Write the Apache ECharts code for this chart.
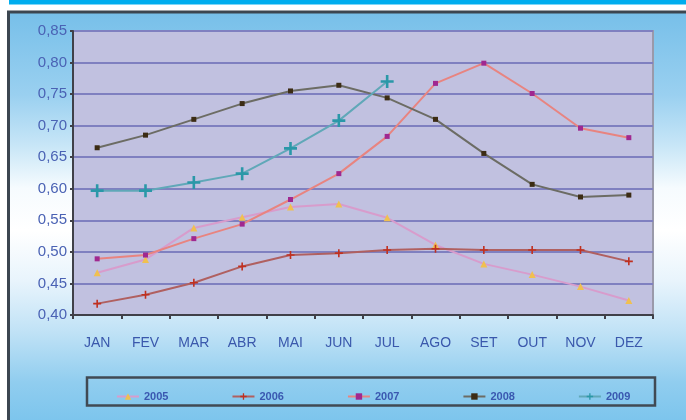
<!DOCTYPE html>
<html>
<head>
<meta charset="utf-8">
<script src="https://cdn.jsdelivr.net/npm/echarts@6/dist/echarts.min.js"></script>
<style>
  html, body { margin: 0; padding: 0; background: #fff; }
  #main { width: 686px; height: 420px; }
</style>
</head>
<body>
<div id="main"></div>
<script>
    var meses = ['JAN', 'FEV', 'MAR', 'ABR', 'MAI', 'JUN', 'JUL', 'AGO', 'SET', 'OUT', 'NOV', 'DEZ'];
    var anos = ['2005', '2006', '2007', '2008', '2009'];

    // valores
    var v2005 = [0.467, 0.488, 0.538, 0.555, 0.571, 0.576, 0.554, 0.511, 0.481, 0.464, 0.445, 0.423];
    var v2006 = [0.418, 0.432, 0.451, 0.477, 0.495, 0.498, 0.503, 0.505, 0.503, 0.503, 0.503, 0.485];
    var v2007 = [0.489, 0.495, 0.521, 0.544, 0.583, 0.624, 0.683, 0.767, 0.799, 0.751, 0.696, 0.681];
    var v2008 = [0.665, 0.685, 0.710, 0.735, 0.755, 0.764, 0.744, 0.710, 0.656, 0.607, 0.587, 0.590];
    var v2009 = [0.597, 0.597, 0.610, 0.624, 0.664, 0.708, 0.770];

    var yMin = 0.40, yMax = 0.85, yStep = 0.05;

    var plus = 'path://M4,0H6V4H10V6H6V10H4V6H0V4H4Z';

    var chart = echarts.init(document.getElementById('main'));

    function serie(name, data, color, symbol, size, mcolor) {
        return {
            name: name,
            type: 'line',
            data: data,
            symbol: symbol,
            symbolSize: size,
            showAllSymbol: true,
            lineStyle: {color: color, width: 2},
            itemStyle: {color: mcolor, borderWidth: 0},
            emphasis: {disabled: true},
            animation: false
        };
    }

    chart.setOption({
        animation: false,
        textStyle: {fontFamily: 'Liberation Sans'},
        graphic: [
            // faixa azul superior
            {type: 'rect', z: -10, shape: {x: 9, y: 0, width: 680, height: 4.5}, style: {fill: '#00adee'}},
            // moldura com degrade
            {
                type: 'rect', z: -10,
                shape: {x: 8.5, y: 12, width: 690, height: 420},
                style: {
                    fill: {
                        type: 'linear', x: 0, y: 0, x2: 0, y2: 1,
                        colorStops: [
                            {offset: 0, color: '#76bfe9'},
                            {offset: 0.2, color: '#9ad0f0'},
                            {offset: 0.32, color: '#c8e6f7'},
                            {offset: 0.42, color: '#f6fbfe'},
                            {offset: 0.52, color: '#ffffff'},
                            {offset: 0.64, color: '#e8f4fc'},
                            {offset: 0.76, color: '#c0e2f6'},
                            {offset: 0.88, color: '#90cdef'},
                            {offset: 1, color: '#76c2ec'}
                        ]
                    },
                    stroke: '#3c4650',
                    lineWidth: 3
                }
            },
            // caixa da legenda
            {
                type: 'rect', z: 5,
                shape: {x: 87, y: 377.5, width: 568, height: 28},
                style: {fill: 'none', stroke: '#404a54', lineWidth: 2.5}
            }
        ],
        grid: {
            left: 73, right: 33, top: 31, bottom: 105,
            show: true,
            backgroundColor: '#c1c1e0',
            borderColor: '#9a9aaa',
            borderWidth: 2
        },
        legend: {
            data: anos,
            left: 111,
            top: 386,
            itemWidth: 22,
            itemHeight: 8,
            itemGap: 63,
            textStyle: {color: '#3a58b0', fontSize: 11, fontWeight: 'bold', fontFamily: 'Liberation Sans'}
        },
        xAxis: {
            type: 'category',
            data: meses,
            boundaryGap: true,
            axisLine: {lineStyle: {color: '#404048', width: 2}},
            axisTick: {show: true, length: 4, lineStyle: {color: '#404048', width: 2}},
            axisLabel: {color: '#3a58ac', fontSize: 14, margin: 21},
            splitLine: {show: false}
        },
        yAxis: {
            type: 'value',
            min: yMin,
            max: yMax,
            interval: yStep,
            axisLine: {show: true, lineStyle: {color: '#404048', width: 2}},
            axisTick: {show: true, length: 3, lineStyle: {color: '#404048', width: 2}},
            axisLabel: {
                color: '#4a62b4', fontSize: 15, margin: 6,
                formatter: function (v) { return v.toFixed(2).replace('.', ','); }
            },
            splitLine: {lineStyle: {color: '#7f80c0', width: 2}}
        },
        series: [
            serie('2005', v2005, '#d89ccc', 'triangle', 7, '#f0c050'),
            serie('2006', v2006, '#b06060', plus, 8, '#c03020'),
            serie('2007', v2007, '#e88480', 'rect', 5, '#a02890'),
            serie('2008', v2008, '#6c6c64', 'rect', 5, '#3c2c14'),
            serie('2009', v2009, '#60a8b8', plus, 13, '#2a98a8')
        ]
    });
</script>
</body>
</html>
